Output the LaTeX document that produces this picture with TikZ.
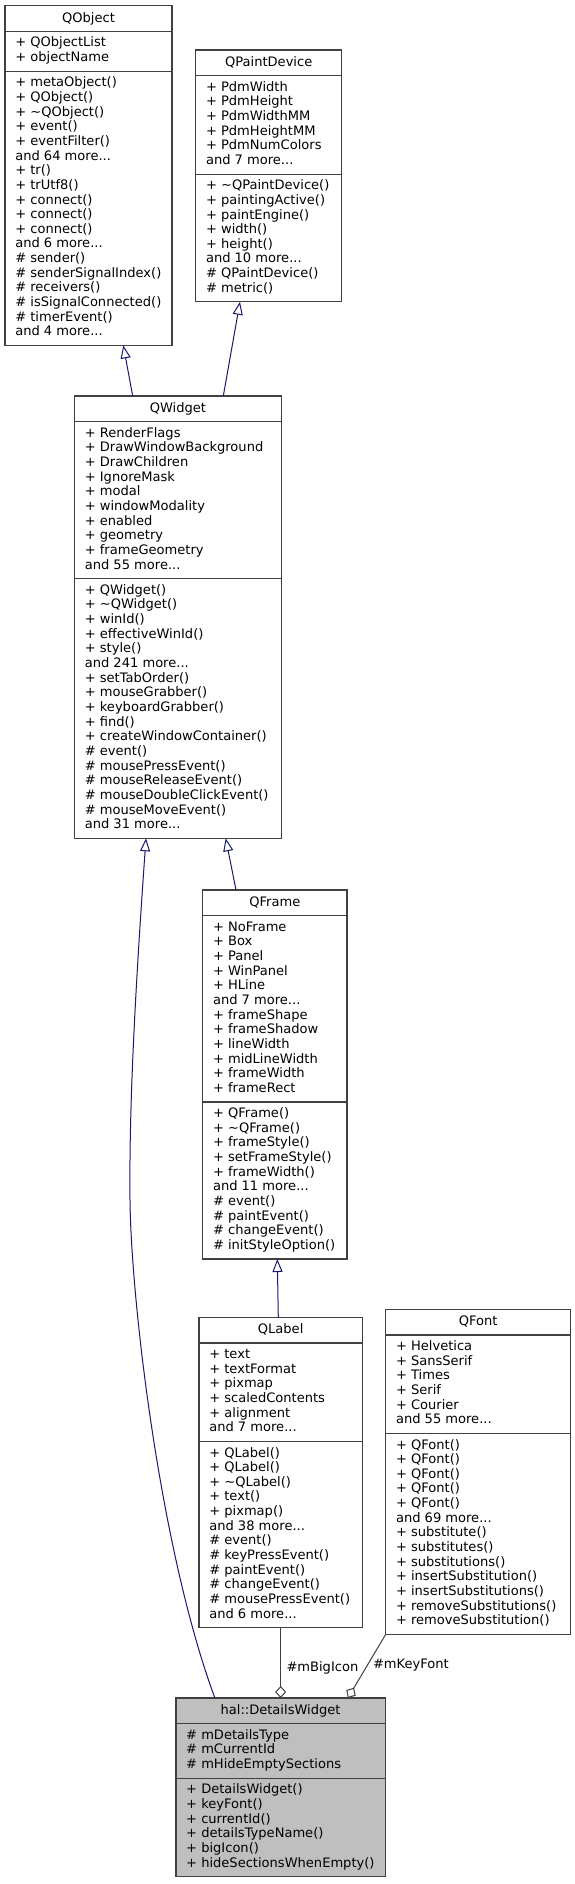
\documentclass[tikz,border=0pt]{standalone}
\usepackage{fontspec}
\setmainfont{DejaVu Sans}
\usetikzlibrary{arrows.meta,calc}
\definecolor{inhcol}{HTML}{191970}
\definecolor{aggcol}{HTML}{404040}
\definecolor{boxcol}{HTML}{404040}
\definecolor{clsgrey}{HTML}{BFBFBF}
\tikzset{
 clsbox/.style={draw=boxcol, line width=1.2pt, inner sep=0pt, outer sep=0pt},
 clssep/.style={draw=boxcol, line width=1.2pt},
 clstext/.style={inner sep=0pt, outer sep=0pt, font=\fontsize{13.05}{14.65}\selectfont, text=black},
 inh/.style={draw=inhcol, line width=1pt, -{Triangle[fill=white, length=13pt, width=10pt]}},
 agg/.style={draw=aggcol, line width=1pt, -{Diamond[fill=white, length=12pt, width=11pt]}},
}
\newcommand{\ddd}{.{}.{}.}
\def\clsfill{white}
% #1 name, #2 left x, #3 top y, #4 width, #5 title, #6 n attrs, #7 n methods, #8 attrs, #9 methods
\newcommand{\umlclass}[9]{%
 \pgfmathsetmacro{\clsA}{#3+25.7}%
 \pgfmathsetmacro{\clsM}{\clsA+#6*14.65+10.5}%
 \pgfmathsetmacro{\clsB}{\clsM+#7*14.65+10.5}%
 \pgfmathsetmacro{\clsH}{\clsB-#3}%
 \node[clsbox, fill=\clsfill, minimum width=#4pt, minimum height=\clsH pt, anchor=north west] (#1) at (#2,#3) {};
 \draw[clssep] (#2,\clsA) -- ++(#4,0);
 \draw[clssep] (#2,\clsM) -- ++(#4,0);
 \node[clstext, anchor=base] (#1-title) at (#2+#4/2,#3+16.4) {#5};
 \foreach \t [count=\i from 0] in {#8} {\node[clstext, anchor=base west] (#1-a\i) at (#2+10.3,\clsA+15.6+\i*14.65) {\t};}
 \foreach \t [count=\i from 0] in {#9} {\node[clstext, anchor=base west] (#1-m\i) at (#2+10.3,\clsM+15.6+\i*14.65) {\t};}
}
\begin{document}
\begin{tikzpicture}[x=1pt,y=-1pt]
\path[fill=white] (0,0) rectangle (575,1884);
\useasboundingbox (0,0) rectangle (575,1884);

\umlclass{qobject}{5}{5.7}{167}{QObject}{2}{18}%
 {+ QObjectList, + objectName}%
 {+ metaObject(), + QObject(), + \textasciitilde QObject(), + event(), + eventFilter(), and 64 more\ddd, + tr(), + trUtf8(), + connect(), + connect(), + connect(), and 6 more\ddd, \# sender(), \# senderSignalIndex(), \# receivers(), \# isSignalConnected(), \# timerEvent(), and 4 more\ddd}

\umlclass{qpaint}{195.7}{50}{146}{QPaintDevice}{6}{8}%
 {+ PdmWidth, + PdmHeight, + PdmWidthMM, + PdmHeightMM, + PdmNumColors, and 7 more\ddd}%
 {+ \textasciitilde QPaintDevice(), + paintingActive(), + paintEngine(), + width(), + height(), and 10 more\ddd, \# QPaintDevice(), \# metric()}

\umlclass{qwidget}{74.5}{396}{206.8}{QWidget}{10}{17}%
 {+ RenderFlags, + DrawWindowBackground, + DrawChildren, + IgnoreMask, + modal, + windowModality, + enabled, + geometry, + frameGeometry, and 55 more\ddd}%
 {+ QWidget(), + \textasciitilde QWidget(), + winId(), + effectiveWinId(), + style(), and 241 more\ddd, + setTabOrder(), + mouseGrabber(), + keyboardGrabber(), + find(), + createWindowContainer(), \# event(), \# mousePressEvent(), \# mouseReleaseEvent(), \# mouseDoubleClickEvent(), \# mouseMoveEvent(), and 31 more\ddd}

\umlclass{qframe}{202.7}{890}{144.3}{QFrame}{12}{10}%
 {+ NoFrame, + Box, + Panel, + WinPanel, + HLine, and 7 more\ddd, + frameShape, + frameShadow, + lineWidth, + midLineWidth, + frameWidth, + frameRect}%
 {+ QFrame(), + \textasciitilde QFrame(), + frameStyle(), + setFrameStyle(), + frameWidth(), and 11 more\ddd, \# event(), \# paintEvent(), \# changeEvent(), \# initStyleOption()}

\umlclass{qlabel}{199}{1317.3}{163.3}{QLabel}{6}{12}%
 {+ text, + textFormat, + pixmap, + scaledContents, + alignment, and 7 more\ddd}%
 {+ QLabel(), + QLabel(), + \textasciitilde QLabel(), + text(), + pixmap(), and 38 more\ddd, \# event(), \# keyPressEvent(), \# paintEvent(), \# changeEvent(), \# mousePressEvent(), and 6 more\ddd}

\umlclass{qfont}{385.7}{1309.3}{185}{QFont}{6}{13}%
 {+ Helvetica, + SansSerif, + Times, + Serif, + Courier, and 55 more\ddd}%
 {+ QFont(), + QFont(), + QFont(), + QFont(), + QFont(), and 69 more\ddd, + substitute(), + substitutes(), + substitutions(), + insertSubstitution(), + insertSubstitutions(), + removeSubstitutions(), + removeSubstitution()}

\def\clsfill{clsgrey}
\umlclass{dw}{175.9}{1698}{209.3}{hal::DetailsWidget}{3}{6}%
 {\# mDetailsType, \# mCurrentId, \# mHideEmptySections}%
 {+ DetailsWidget(), + keyFont(), + currentId(), + detailsTypeName(), + bigIcon(), + hideSectionsWhenEmpty()}

% inheritance
\draw[inh] ($(qwidget.north west)+(58.2,0)$) -- ($(qobject.south west)+(118.3,0)$);
\draw[inh] ($(qwidget.north west)+(148.8,0)$) -- ($(qpaint.south west)+(44.3,0)$);
\draw[inh] ($(qframe.north west)+(33.3,0)$) -- ($(qwidget.south west)+(151.2,0)$);
\draw[inh] ($(qlabel.north west)+(79.3,0)$) -- ($(qframe.south west)+(74.6,0)$);
\draw[inh] ($(dw.north west)+(39,0)$) .. controls (160,1550) and (131,1300) .. (130,1200)
  .. controls (129,1100) and (136,980) .. ($(qwidget.south west)+(71.5,0)$);

% aggregation
\draw[agg] (qlabel.south) -- (qlabel.south |- dw.north);
\draw[agg] (qfont.south west) -- ($(dw.north west)+(172,0)$);
\node[clstext, anchor=base west] (lblicon) at (286.5,1671) {\#mBigIcon};
\node[clstext, anchor=base west] (lblfont) at (373,1668) {\#mKeyFont};
\end{tikzpicture}
\end{document}
